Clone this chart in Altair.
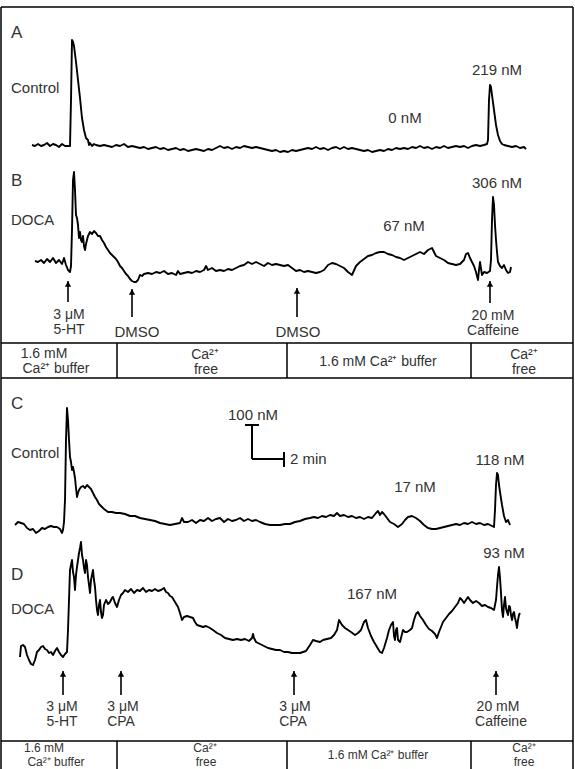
import altair as alt
import pandas as pd

# ---------------- traces (figure units) ----------------
TRACE_A = [(32,145),(35,146),(38,144),(41,146),(44,145),(47,143),(50,146),(53,144),(56,145),(59,147),(62,144),(65,146),(68,146),(70,146),
           (71,100),(72,40),(73,42),(74,46),(76,62),(78,80),(80,98),(82,118),(84,130),(86,138),(88,140),(89,145),(90,143),(92,146),(94,144),
           (96,145),(100,146),(104,145),(108,146),(112,147),(116,145),(120,146),(124,144),(128,147),(132,146),(136,147),(140,148),(144,147),
           (148,149),(152,148),(156,147),(160,149),(164,148),(168,150),(172,149),(176,148),(180,150),(184,149),(188,151),(192,150),(196,149),
           (200,150),(204,151),(208,149),(212,150),(216,148),(220,146),(224,148),(228,147),(232,149),(236,147),(240,148),(244,146),(248,147),
           (252,148),(256,147),(260,148),(264,149),(268,150),(272,151),(276,150),(280,152),(284,151),(288,152),(292,150),(296,151),(300,150),
           (304,149),(308,148),(312,149),(316,147),(320,149),(324,148),(328,150),(332,148),(336,147),(340,149),(344,147),(348,149),(352,148),
           (356,149),(360,150),(364,151),(368,150),(372,152),(376,151),(380,150),(384,151),(388,149),(392,150),(396,148),(400,149),(404,148),
           (408,149),(412,147),(416,148),(420,146),(424,148),(428,147),(432,149),(436,147),(440,148),(444,146),(448,148),(452,147),(456,146),
           (460,147),(464,146),(468,148),(472,146),(476,145),(480,146),(484,145),(487,144),(488,140),(489,100),(490,85),(491,87),(492,95),
           (494,110),(496,125),(498,135),(500,141),(502,144),(504,145),(508,146),(512,147),(516,146),(520,148),(524,147),(526,149)]

TRACE_B = [(35,261),(38,262),(41,260),(44,263),(47,259),(50,262),(53,258),(56,263),(59,260),(62,264),(64,258),(66,265),(68,270),(70,272),
           (71,266),(72,230),(73,180),(74,172),(75,190),(76,215),(77,218),(78,225),(79,238),(80,232),(81,240),(82,242),(83,236),(84,246),
           (85,250),(86,244),(87,240),(88,236),(90,232),(92,234),(94,231),(96,233),(98,236),(100,236),(102,240),(104,243),(106,247),(108,250),
           (110,253),(112,255),(114,257),(116,259),(118,262),(120,266),(122,268),(124,271),(126,274),(128,276),(130,279),(132,281),(134,282),
           (136,282),(138,280),(140,275),(142,276),(144,274),(148,273),(152,274),(156,272),(160,273),(164,271),(168,274),(172,273),(176,275),
           (178,271),(180,274),(184,273),(188,272),(192,273),(196,271),(200,272),(204,270),(206,266),(208,270),(212,268),(216,271),(220,270),
           (224,271),(228,269),(232,270),(236,268),(240,266),(244,265),(248,262),(252,264),(256,262),(260,264),(264,266),(268,263),(272,265),
           (276,264),(280,265),(284,266),(288,265),(292,268),(296,271),(300,270),(304,272),(308,271),(312,272),(316,273),(320,272),(324,270),
           (328,265),(332,263),(336,264),(340,266),(344,268),(348,272),(352,275),(356,266),(360,262),(364,259),(368,256),(372,255),(376,253),
           (380,252),(384,252),(388,254),(392,255),(396,257),(400,258),(404,260),(408,258),(412,256),(416,254),(420,252),(424,254),(428,250),
           (432,248),(434,252),(436,256),(440,258),(444,260),(448,263),(452,264),(456,265),(460,264),(464,260),(466,254),(468,253),(470,258),
           (472,262),(474,266),(476,272),(478,280),(479,270),(480,262),(482,275),(484,272),(487,273),(490,271),(491,260),(492,220),(493,197),
           (494,205),(495,225),(496,240),(497,252),(498,262),(500,266),(502,268),(504,265),(506,270),(508,273),(510,272),(511,267)]

TRACE_C = [(15,525),(18,522),(21,523),(24,524),(27,528),(30,530),(33,529),(36,533),(39,531),(42,528),(45,529),(48,527),(51,526),(54,527),
           (57,527),(60,529),(62,533),(63,530),(64,522),(65,500),(66,440),(67,408),(68,420),(69,440),(70,457),(71,462),(72,470),(73,467),
           (74,472),(75,478),(76,488),(77,497),(78,493),(79,490),(81,487),(83,486),(85,488),(87,485),(89,487),(91,489),(93,493),(95,497),
           (97,500),(99,504),(101,506),(104,509),(108,512),(112,512),(116,513),(120,513),(125,514),(130,516),(135,516),(140,518),(145,519),
           (150,520),(155,521),(160,523),(165,524),(170,525),(175,524),(180,523),(182,518),(184,522),(188,522),(192,520),(196,523),(200,520),
           (204,521),(208,518),(212,521),(216,519),(220,518),(224,522),(228,519),(232,521),(236,520),(240,518),(244,521),(248,519),(252,521),
           (256,520),(260,522),(265,524),(270,525),(275,525),(280,525),(285,524),(290,524),(295,522),(300,521),(305,519),(310,518),(314,517),
           (318,518),(322,516),(326,517),(330,515),(334,516),(337,513),(340,516),(344,515),(348,517),(352,516),(356,518),(360,517),(364,519),
           (368,517),(372,518),(376,513),(378,511),(380,515),(382,512),(384,514),(387,518),(390,522),(394,524),(398,527),(402,524),(405,520),
           (408,517),(412,516),(416,518),(420,521),(424,525),(428,528),(432,529),(436,529),(440,528),(444,527),(448,526),(452,525),(456,524),
           (460,525),(464,523),(468,524),(472,522),(476,524),(480,523),(484,525),(488,524),(492,526),(494,527),(495,510),(496,485),(497,473),
           (498,475),(499,485),(500,492),(502,505),(504,516),(506,522),(508,520),(510,525)]

TRACE_D = [(20,657),(21,646),(23,645),(25,647),(27,655),(29,660),(31,664),(33,665),(35,660),(37,652),(39,650),(41,647),(43,646),(45,649),
           (47,650),(49,653),(51,652),(53,655),(55,651),(57,648),(59,652),(61,655),(63,657),(65,654),(67,652),(68,630),(69,600),(70,570),
           (71,565),(72,560),(73,572),(74,577),(75,590),(76,575),(77,567),(78,560),(79,553),(80,548),(81,542),(82,555),(83,560),(84,568),
           (85,573),(86,560),(87,565),(88,577),(89,585),(90,593),(91,580),(92,575),(93,570),(94,580),(95,587),(96,600),(97,610),(98,615),
           (99,605),(100,600),(101,612),(102,618),(103,615),(104,605),(106,600),(108,604),(110,602),(112,598),(113,597),(115,603),(117,607),
           (119,600),(121,595),(123,593),(125,590),(128,592),(131,589),(134,593),(137,590),(140,591),(143,588),(146,592),(149,590),(152,591),
           (155,589),(158,591),(161,590),(164,588),(166,592),(168,593),(170,596),(172,597),(175,602),(178,607),(180,613),(182,620),(184,617),
           (187,616),(190,617),(193,618),(195,622),(197,625),(200,626),(203,627),(206,626),(210,628),(213,630),(217,633),(221,635),(225,638),
           (229,639),(233,640),(237,639),(241,640),(245,639),(249,641),(252,638),(253,634),(254,638),(256,642),(260,644),(264,646),(268,648),
           (272,649),(276,650),(280,650),(284,652),(288,652),(292,653),(296,653),(300,653),(303,652),(306,651),(308,648),(310,645),(313,640),
           (316,641),(320,642),(323,640),(327,639),(331,638),(334,635),(337,630),(339,620),(342,625),(345,628),(348,630),(351,632),(355,635),
           (358,633),(361,630),(364,622),(366,620),(368,628),(371,636),(374,642),(377,647),(380,652),(382,653),(384,648),(387,638),(389,630),
           (391,625),(393,622),(394,636),(395,640),(396,630),(397,628),(398,640),(400,642),(402,634),(403,630),(405,632),(407,632),(410,630),
           (412,628),(414,620),(416,614),(418,612),(420,616),(423,620),(426,625),(429,629),(432,631),(435,634),(437,638),(439,632),(441,627),
           (443,622),(446,618),(449,614),(452,611),(455,607),(458,603),(460,598),(462,600),(464,603),(466,600),(468,597),(470,600),(473,603),
           (476,601),(479,603),(482,606),(485,605),(488,607),(491,608),(494,610),(496,600),(497,587),(498,575),(499,567),(500,578),(501,593),
           (502,610),(503,617),(504,605),(505,597),(506,608),(507,612),(508,615),(509,606),(510,607),(511,615),(512,620),(513,614),(514,612),
           (515,618),(516,622),(517,628),(518,620),(519,615),(520,613)]

# ---------------- frame, dividers and scale bar (x1, y1, x2, y2) ----------------
FRAME = [(1,7,573,7),(1,7,1,769),(573,7,573,769),
         (1,343,573,343),(1,378,573,378),(1,741,573,741),
         (117,343,117,378),(287,343,287,378),(471,343,471,378),
         (117,741,117,769),(287,741,287,769),(471,741,471,769)]
SCALE_BAR = [(252,425,252,459),(245,425,259,425),(252,459,284,459),(284,452,284,467)]

# arrows: x, head y, tail y
ARROWS = [(68,281,302),(132,289,317),(297,288,317),(490,281,303),
          (63,671,695),(121,671,695),(294,671,695),(496,671,695)]

# texts
PANEL_LETTERS = [(11,33,"A"),(11,181,"B"),(11,404,"C"),(11,575,"D")]
LABELS = [
    (11,88,"Control","left"),(497,70,"219 nM","center"),(405,118,"0 nM","center"),
    (11,220,"DOCA","left"),(497,183,"306 nM","center"),(404,226,"67 nM","center"),
    (137,332,"DMSO","center"),(298,332,"DMSO","center"),
    (11,453,"Control","left"),(253,415,"100 nM","center"),(290,459,"2 min","left"),
    (500,460,"118 nM","center"),(415,487,"17 nM","center"),
    (11,609,"DOCA","left"),(504,553,"93 nM","center"),(372,594,"167 nM","center"),
]
TWO_LINE = [
    (69,315,"3 μM"),(69,330,"5-HT"),(493,316,"20 mM"),(493,331,"Caffeine"),
    (62,707,"3 μM"),(62,722,"5-HT"),(123,707,"3 μM"),(121,722,"CPA"),
    (295,707,"3 μM"),(293,722,"CPA"),(498,707,"20 mM"),(501,722,"Caffeine"),
]
BUFFER_TOP = [
    (44,354,"1.6 mM"),(56,369,"Ca²⁺ buffer"),(205,355,"Ca²⁺"),(206,370,"free"),
    (378,362,"1.6 mM Ca²⁺ buffer"),(524,355,"Ca²⁺"),(524,370,"free"),
]
BUFFER_BOTTOM = [
    (44,748,"1.6 mM"),(56,762,"Ca²⁺ buffer"),(205,748,"Ca²⁺"),(206,762,"free"),
    (378,755,"1.6 mM Ca²⁺ buffer"),(524,748,"Ca²⁺"),(524,762,"free"),
]

W, H = 575, 769
xs = alt.Scale(domain=[0, W])
ys = alt.Scale(domain=[0, H], reverse=True)

rows = []
for name, tr in [("A", TRACE_A), ("B", TRACE_B), ("C", TRACE_C), ("D", TRACE_D)]:
    for i, (x, y) in enumerate(tr):
        rows.append({"trace": name, "i": i, "x": x, "y": y})
traces = pd.DataFrame(rows)

seg = pd.DataFrame([{"x": a, "y": b, "x2": c, "y2": d} for a, b, c, d in FRAME])
bar = pd.DataFrame([{"x": a, "y": b, "x2": c, "y2": d} for a, b, c, d in SCALE_BAR])
arr = pd.DataFrame([{"x": a, "head": h, "tail": t} for a, h, t in ARROWS])
letters = pd.DataFrame([{"x": a, "y": b, "t": c} for a, b, c in PANEL_LETTERS])
labels = pd.DataFrame([{"x": a, "y": b, "t": c, "al": d} for a, b, c, d in LABELS])
twoline = pd.DataFrame([{"x": a, "y": b, "t": c} for a, b, c in TWO_LINE])
buf_top = pd.DataFrame([{"x": a, "y": b, "t": c} for a, b, c in BUFFER_TOP])
buf_bot = pd.DataFrame([{"x": a, "y": b, "t": c} for a, b, c in BUFFER_BOTTOM])

X = lambda f="x": alt.X(f, type="quantitative", scale=xs, axis=None)
Y = lambda f="y": alt.Y(f, type="quantitative", scale=ys, axis=None)

FONT = "Liberation Sans"
TXT = "#333333"

line = alt.Chart(traces).mark_line(color="black", strokeWidth=1.9, strokeJoin="round").encode(
    x=X(), y=Y(), detail="trace:N", order="i:Q")

frame = alt.Chart(seg).mark_rule(color="black", strokeWidth=1.5).encode(
    x=X(), y=Y(), x2="x2:Q", y2="y2:Q")
scalebar = alt.Chart(bar).mark_rule(color="black", strokeWidth=2).encode(
    x=X(), y=Y(), x2="x2:Q", y2="y2:Q")

shaft = alt.Chart(arr).mark_rule(color="black", strokeWidth=1.6).encode(
    x=X(), y=Y("head"), y2="tail:Q")
head = alt.Chart(arr).mark_point(shape="triangle-up", filled=True, color="black",
                                 size=40, opacity=1, yOffset=3).encode(x=X(), y=Y("head"))

def text_layer(df, size, align="center"):
    return alt.Chart(df).mark_text(font=FONT, fontSize=size, color=TXT, align=align,
                                   baseline="middle").encode(x=X(), y=Y(), text="t:N")

t_letters = text_layer(letters, 17, "left")
t_left = text_layer(labels[labels.al == "left"], 15, "left")
t_center = text_layer(labels[labels.al == "center"], 15, "center")
t_two = text_layer(twoline, 14)
t_buf_top = text_layer(buf_top, 14)
t_buf_bot = text_layer(buf_bot, 12)

chart = alt.layer(frame, scalebar, line, shaft, head, t_letters, t_left, t_center, t_two,
                  t_buf_top, t_buf_bot).properties(
    width=W, height=H, autosize=alt.AutoSizeParams(type="none"), padding=0,
    background="white"
).configure_view(stroke=None)

chart.save("out.html", embed_options={"renderer": "svg", "actions": False})
